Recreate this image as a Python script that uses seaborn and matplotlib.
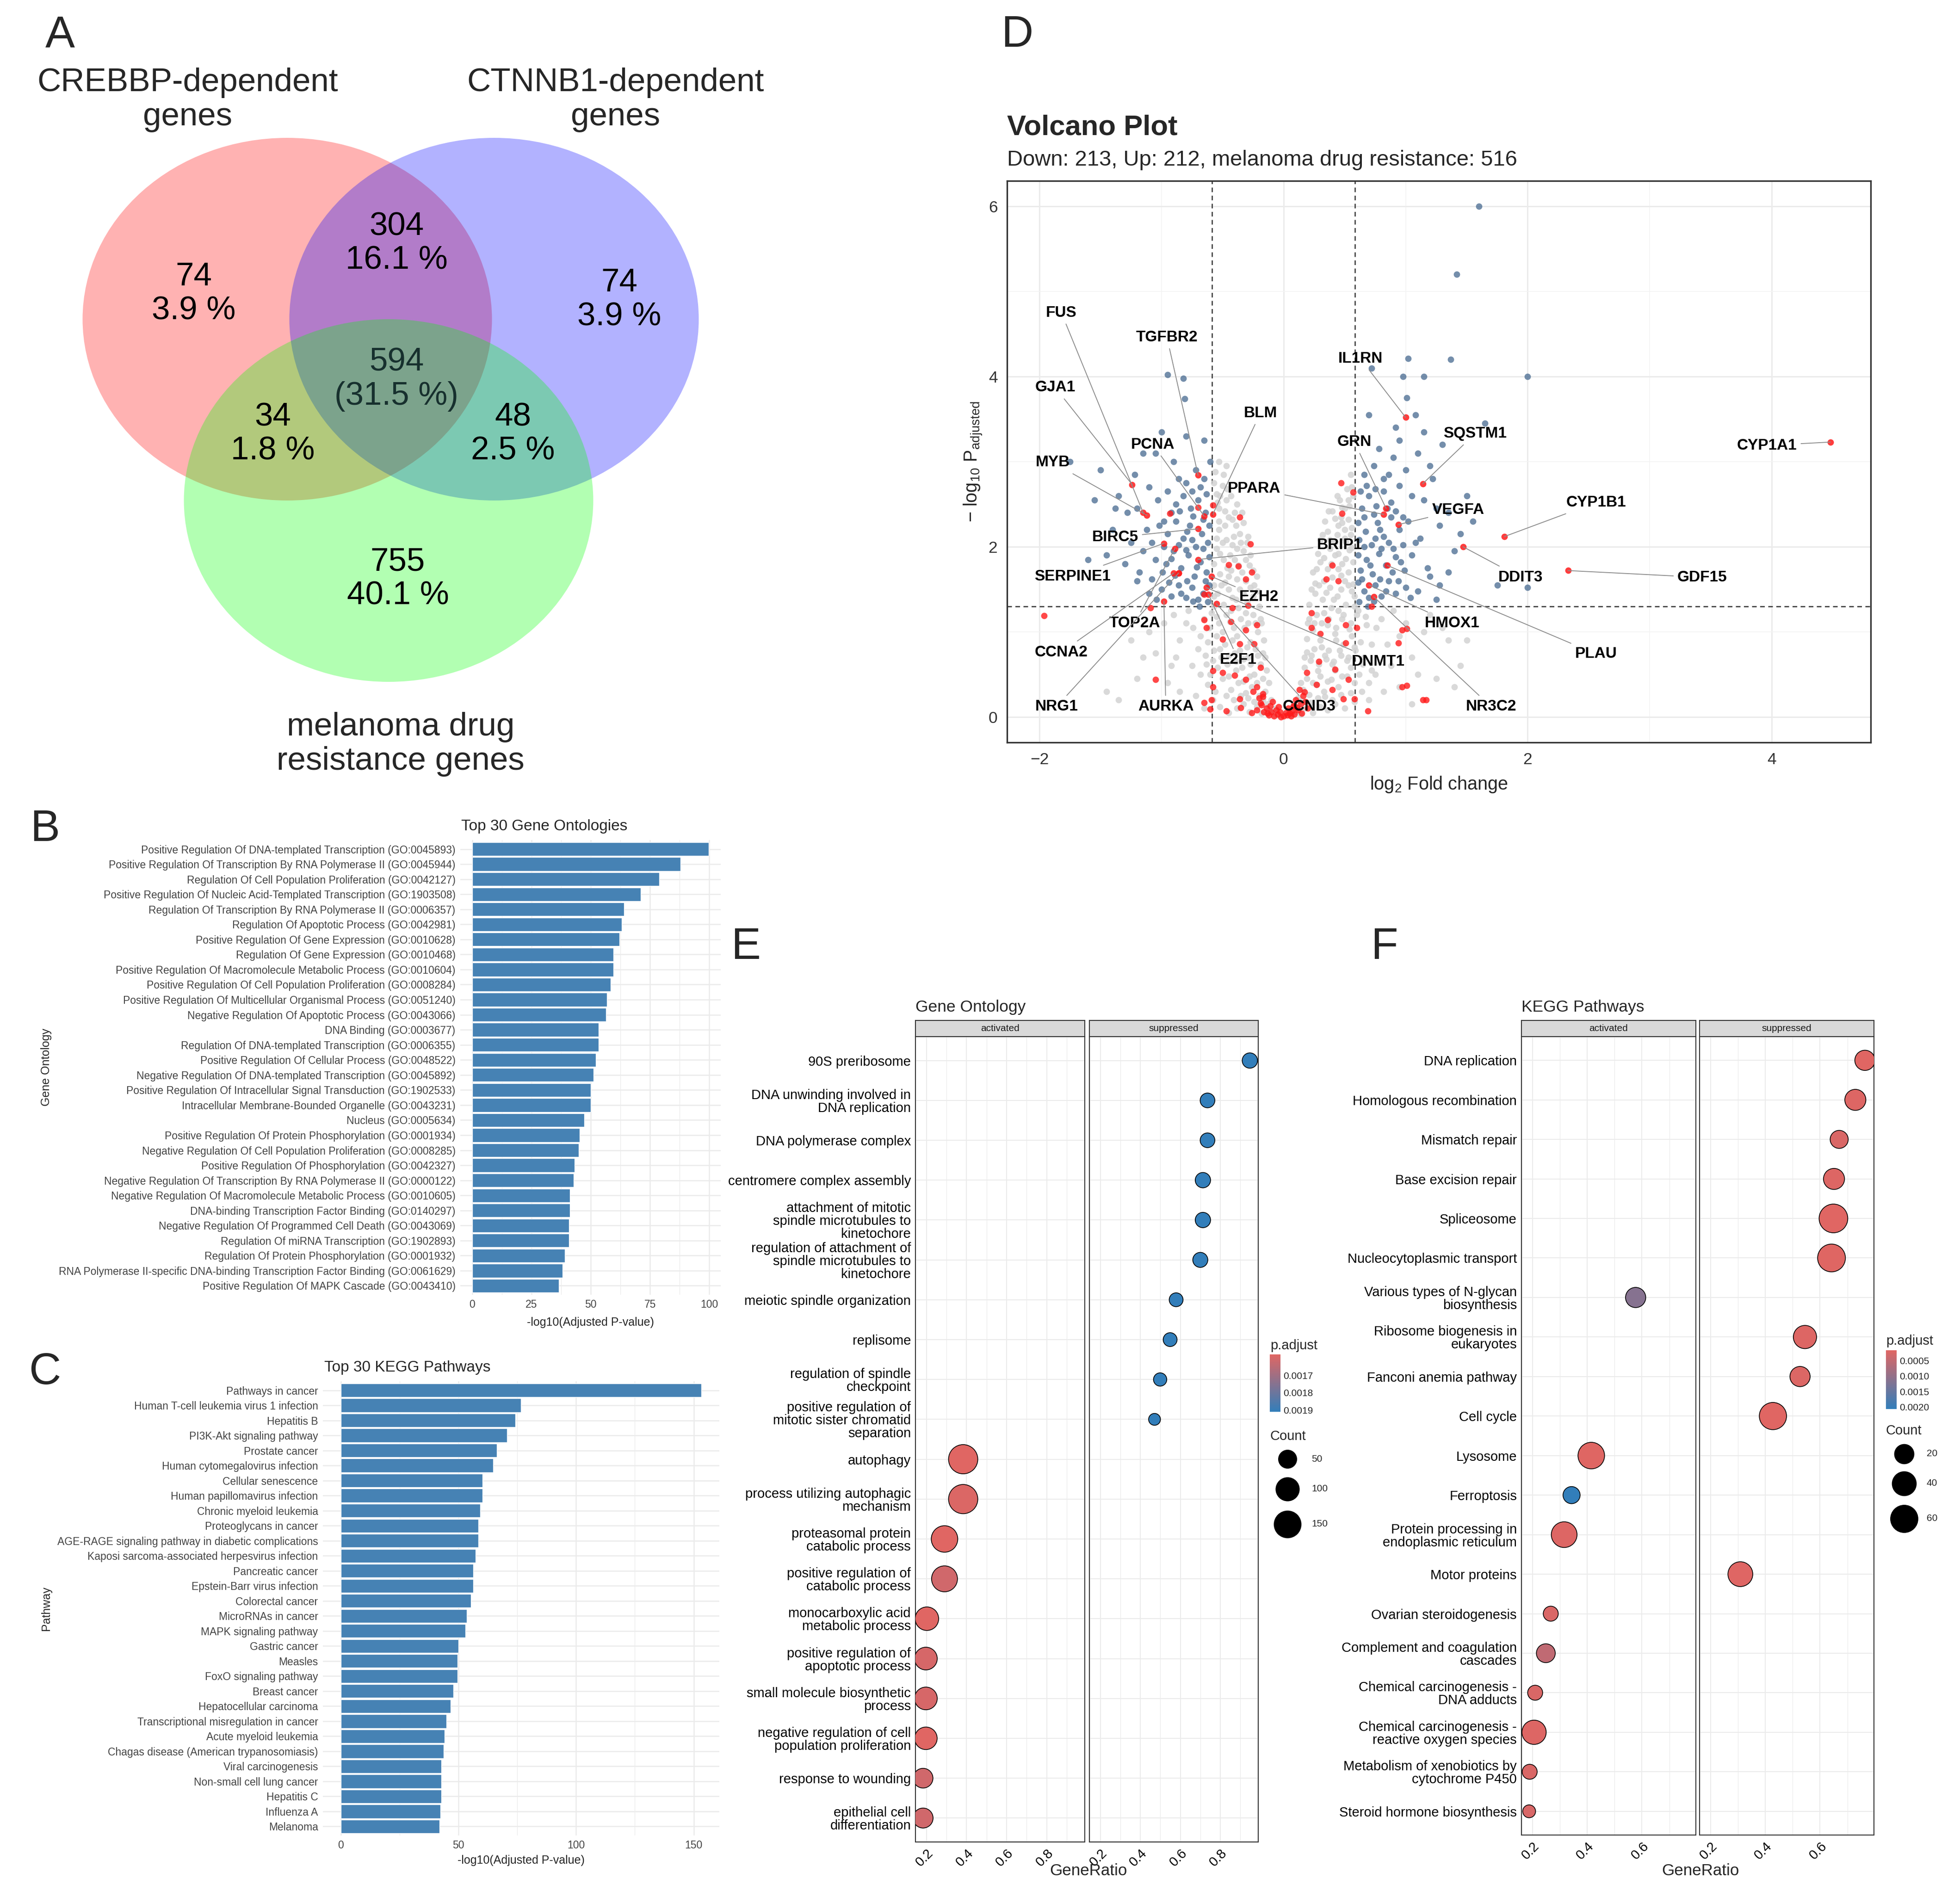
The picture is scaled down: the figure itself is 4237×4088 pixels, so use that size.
import numpy as np
import pandas as pd
import seaborn as sns
import matplotlib.pyplot as plt
from matplotlib.patches import Ellipse
from matplotlib.colors import LinearSegmentedColormap, Normalize
from matplotlib.cm import ScalarMappable

sns.set_style('white')
plt.rcParams['font.family'] = ['Liberation Sans', 'DejaVu Sans']
plt.rcParams['mathtext.fontset'] = 'custom'
plt.rcParams['mathtext.rm'] = 'Liberation Sans'
plt.rcParams['mathtext.it'] = 'Liberation Sans:italic'

# ---------------- data ----------------
# A: venn
venn_names = ['CREBBP-dependent\ngenes', 'CTNNB1-dependent\ngenes', 'melanoma drug\nresistance genes']
venn_regions = ['100', '110', '010', '111', '101', '011', '001']
venn_counts = [74, 304, 74, 594, 34, 48, 755]

# B: top GO terms
go_terms = [
    'Positive Regulation Of DNA-templated Transcription (GO:0045893)',
    'Positive Regulation Of Transcription By RNA Polymerase II (GO:0045944)',
    'Regulation Of Cell Population Proliferation (GO:0042127)',
    'Positive Regulation Of Nucleic Acid-Templated Transcription (GO:1903508)',
    'Regulation Of Transcription By RNA Polymerase II (GO:0006357)',
    'Regulation Of Apoptotic Process (GO:0042981)',
    'Positive Regulation Of Gene Expression (GO:0010628)',
    'Regulation Of Gene Expression (GO:0010468)',
    'Positive Regulation Of Macromolecule Metabolic Process (GO:0010604)',
    'Positive Regulation Of Cell Population Proliferation (GO:0008284)',
    'Positive Regulation Of Multicellular Organismal Process (GO:0051240)',
    'Negative Regulation Of Apoptotic Process (GO:0043066)',
    'DNA Binding (GO:0003677)',
    'Regulation Of DNA-templated Transcription (GO:0006355)',
    'Positive Regulation Of Cellular Process (GO:0048522)',
    'Negative Regulation Of DNA-templated Transcription (GO:0045892)',
    'Positive Regulation Of Intracellular Signal Transduction (GO:1902533)',
    'Intracellular Membrane-Bounded Organelle (GO:0043231)',
    'Nucleus (GO:0005634)',
    'Positive Regulation Of Protein Phosphorylation (GO:0001934)',
    'Negative Regulation Of Cell Population Proliferation (GO:0008285)',
    'Positive Regulation Of Phosphorylation (GO:0042327)',
    'Negative Regulation Of Transcription By RNA Polymerase II (GO:0000122)',
    'Negative Regulation Of Macromolecule Metabolic Process (GO:0010605)',
    'DNA-binding Transcription Factor Binding (GO:0140297)',
    'Negative Regulation Of Programmed Cell Death (GO:0043069)',
    'Regulation Of miRNA Transcription (GO:1902893)',
    'Regulation Of Protein Phosphorylation (GO:0001932)',
    'RNA Polymerase II-specific DNA-binding Transcription Factor Binding (GO:0061629)',
    'Positive Regulation Of MAPK Cascade (GO:0043410)']
go_scores = [99.8, 87.9, 78.9, 71.1, 64.0, 63.1, 62.1, 59.5, 59.5, 58.4,
             56.9, 56.5, 53.4, 53.4, 52.2, 51.1, 50.0, 50.0, 47.2, 45.3,
             45.0, 43.1, 42.7, 41.2, 41.2, 40.9, 40.9, 39.0, 38.1, 36.6]

# C: top KEGG pathways
kegg_terms = [
    'Pathways in cancer', 'Human T-cell leukemia virus 1 infection', 'Hepatitis B',
    'PI3K-Akt signaling pathway', 'Prostate cancer', 'Human cytomegalovirus infection',
    'Cellular senescence', 'Human papillomavirus infection', 'Chronic myeloid leukemia',
    'Proteoglycans in cancer', 'AGE-RAGE signaling pathway in diabetic complications',
    'Kaposi sarcoma-associated herpesvirus infection', 'Pancreatic cancer',
    'Epstein-Barr virus infection', 'Colorectal cancer', 'MicroRNAs in cancer',
    'MAPK signaling pathway', 'Gastric cancer', 'Measles', 'FoxO signaling pathway',
    'Breast cancer', 'Hepatocellular carcinoma', 'Transcriptional misregulation in cancer',
    'Acute myeloid leukemia', 'Chagas disease (American trypanosomiasis)',
    'Viral carcinogenesis', 'Non-small cell lung cancer', 'Hepatitis C', 'Influenza A',
    'Melanoma']
kegg_scores = [153.2, 76.6, 74.1, 70.6, 66.3, 64.7, 60.1, 60.1, 59.3, 58.4,
               58.4, 57.2, 56.3, 56.3, 55.3, 53.6, 52.9, 49.9, 49.5, 49.5,
               47.8, 46.7, 44.8, 44.0, 43.7, 42.7, 42.7, 42.7, 42.3, 42.0]

# D: volcano points (log2 fold change, -log10 p adjusted)
grey_points = [
    (-0.05, 0.02), (-0.08, 0.05), (-0.12, 0.08), (-0.18, 0.04), (-0.22, 0.12), (-0.28, 0.06), (-0.33, 0.15),
    (-0.38, 0.10), (-0.45, 0.05), (-0.52, 0.12), (-0.10, 0.20), (-0.15, 0.30), (-0.20, 0.25), (-0.26, 0.35),
    (-0.31, 0.28), (-0.37, 0.40), (-0.43, 0.32), (-0.50, 0.45), (-0.56, 0.30), (-0.62, 0.38), (-0.14, 0.55),
    (-0.19, 0.62), (-0.24, 0.50), (-0.29, 0.70), (-0.34, 0.58), (-0.40, 0.75), (-0.46, 0.62), (-0.52, 0.80),
    (-0.58, 0.66), (-0.64, 0.72), (-0.16, 0.90), (-0.21, 1.00), (-0.27, 0.88), (-0.32, 1.05), (-0.38, 0.95),
    (-0.44, 1.12), (-0.50, 1.00), (-0.55, 1.18), (-0.61, 1.05), (-0.68, 0.95), (-0.20, 1.30), (-0.25, 1.42),
    (-0.30, 1.35), (-0.36, 1.50), (-0.42, 1.40), (-0.48, 1.58), (-0.54, 1.45), (-0.22, 1.65), (-0.28, 1.78),
    (-0.34, 1.70), (-0.40, 1.85), (-0.46, 1.75), (-0.52, 1.92), (-0.30, 2.05), (-0.36, 2.15), (-0.42, 2.02),
    (-0.48, 2.25), (-0.55, 2.10), (-0.40, 2.40), (-0.47, 2.55), (-0.53, 2.45), (-0.50, 2.72), (-0.56, 2.88),
    (-0.45, 2.35), (-0.33, 1.95),
    (-0.07, 0.10), (-0.13, 0.15), (-0.17, 0.20), (-0.24, 0.18), (-0.29, 0.22), (-0.35, 0.25), (-0.41, 0.20),
    (-0.47, 0.25), (-0.58, 0.20), (-0.60, 0.50), (-0.12, 0.40), (-0.17, 0.45), (-0.22, 0.40), (-0.28, 0.48),
    (-0.33, 0.42), (-0.39, 0.55), (-0.45, 0.48), (-0.54, 0.58), (-0.17, 0.75), (-0.23, 0.80), (-0.30, 0.82),
    (-0.36, 0.78), (-0.42, 0.90), (-0.48, 0.85), (-0.55, 0.95), (-0.62, 0.88), (-0.19, 1.15), (-0.25, 1.20),
    (-0.31, 1.22), (-0.37, 1.28), (-0.43, 1.25), (-0.49, 1.32), (-0.57, 1.30), (-0.24, 1.55), (-0.31, 1.60),
    (-0.38, 1.62), (-0.45, 1.65), (-0.52, 1.68), (-0.57, 1.55), (-0.27, 1.90), (-0.38, 1.98), (-0.50, 2.05),
    (-0.33, 2.28), (-0.39, 2.25), (-0.53, 2.30), (-0.43, 2.60), (-0.55, 2.62), (-0.49, 2.85), (-0.57, 1.80),
    (-0.44, 1.90),
    (-0.21, 1.48), (-0.27, 1.52), (-0.33, 1.45), (-0.39, 1.38), (-0.45, 1.50), (-0.51, 1.55), (-0.57, 1.42),
    (-0.25, 1.72), (-0.31, 1.85), (-0.37, 1.78), (-0.43, 1.72), (-0.49, 1.85), (-0.55, 1.98), (-0.29, 2.12),
    (-0.35, 2.05), (-0.41, 2.12), (-0.47, 2.08), (-0.53, 2.20), (-0.34, 2.40), (-0.42, 2.32), (-0.48, 2.42),
    (-0.54, 2.52), (-0.38, 2.50), (-0.46, 2.68), (-0.52, 2.60), (-0.57, 2.75), (-0.47, 2.95), (-0.53, 3.00),
    (-0.18, 1.10), (-0.23, 1.10), (-0.29, 1.10), (-0.35, 1.15), (-0.41, 1.05), (-0.47, 1.20), (-0.53, 1.10),
    (-0.59, 1.22), (-0.65, 1.15), (-0.15, 0.70), (-0.21, 0.72), (-0.27, 0.62), (-0.33, 0.68), (-0.39, 0.65),
    (-0.45, 0.72), (-0.51, 0.70), (-0.57, 0.78), (-0.63, 0.62), (-0.68, 0.50), (-0.70, 0.80), (-0.74, 1.05),
    (-0.88, 0.70), (-0.98, 1.10), (-1.15, 0.70), (-0.85, 0.30), (-0.92, 0.60),
    (-0.75, 0.60), (-0.85, 0.90), (-0.95, 0.40), (-1.05, 0.75), (-1.20, 0.45), (-1.35, 0.20), (-1.45, 0.30),
    (-0.80, 1.10), (-0.90, 1.20), (-1.10, 1.00), (-0.72, 0.25), (-0.78, 1.25), (-1.25, 0.90), (-0.65, 0.10),
    (0.05, 0.02), (0.10, 0.06), (0.14, 0.03), (0.18, 0.10), (0.24, 0.05), (0.30, 0.12), (0.36, 0.08),
    (0.42, 0.15), (0.50, 0.10), (0.58, 0.18), (0.12, 0.22), (0.16, 0.32), (0.21, 0.26), (0.27, 0.38),
    (0.33, 0.30), (0.39, 0.44), (0.45, 0.35), (0.52, 0.48), (0.58, 0.40), (0.64, 0.30), (0.17, 0.58),
    (0.22, 0.66), (0.28, 0.54), (0.34, 0.72), (0.40, 0.62), (0.46, 0.78), (0.52, 0.66), (0.58, 0.82),
    (0.66, 0.70), (0.72, 0.55), (0.19, 0.92), (0.24, 1.02), (0.30, 0.90), (0.36, 1.08), (0.42, 0.98),
    (0.48, 1.15), (0.54, 1.03), (0.60, 1.20), (0.68, 1.08), (0.21, 1.32), (0.26, 1.45), (0.32, 1.38),
    (0.38, 1.52), (0.44, 1.42), (0.50, 1.60), (0.56, 1.48), (0.24, 1.70), (0.30, 1.82), (0.36, 1.74),
    (0.42, 1.90), (0.48, 1.80), (0.54, 1.96), (0.30, 2.08), (0.36, 2.18), (0.42, 2.05), (0.48, 2.28),
    (0.55, 2.14), (0.40, 2.42), (0.47, 2.35), (0.53, 2.55), (0.56, 2.70), (0.50, 2.20),
    (0.07, 0.10), (0.12, 0.14), (0.16, 0.19), (0.22, 0.17), (0.28, 0.22), (0.34, 0.24), (0.40, 0.20),
    (0.47, 0.26), (0.55, 0.28), (0.62, 0.50), (0.14, 0.40), (0.19, 0.45), (0.24, 0.40), (0.30, 0.48),
    (0.36, 0.42), (0.42, 0.55), (0.48, 0.48), (0.55, 0.58), (0.19, 0.76), (0.25, 0.80), (0.31, 0.82),
    (0.37, 0.78), (0.43, 0.90), (0.49, 0.85), (0.56, 0.95), (0.63, 0.88), (0.21, 1.15), (0.27, 1.20),
    (0.33, 1.22), (0.39, 1.28), (0.45, 1.25), (0.51, 1.32), (0.58, 1.30), (0.26, 1.57), (0.33, 1.60),
    (0.40, 1.64), (0.47, 1.66), (0.53, 1.70), (0.57, 1.56), (0.28, 1.92), (0.38, 1.98), (0.51, 2.06),
    (0.34, 2.30), (0.45, 2.25), (0.53, 2.32), (0.44, 2.60), (0.55, 2.85), (0.50, 2.45), (0.57, 1.82),
    (0.45, 1.92),
    (0.23, 1.50), (0.29, 1.55), (0.35, 1.46), (0.41, 1.38), (0.47, 1.50), (0.53, 1.55), (0.58, 1.42),
    (0.27, 1.74), (0.33, 1.87), (0.39, 1.80), (0.45, 1.74), (0.51, 1.86), (0.56, 1.99), (0.32, 2.14),
    (0.38, 2.08), (0.44, 2.14), (0.50, 2.10), (0.56, 2.22), (0.37, 2.42), (0.42, 2.33), (0.48, 2.46),
    (0.54, 2.48), (0.46, 2.55), (0.52, 2.68), (0.57, 2.60),
    (0.20, 1.10), (0.25, 1.10), (0.31, 1.10), (0.37, 1.15), (0.43, 1.05), (0.49, 1.20), (0.55, 1.10),
    (0.61, 1.25), (0.67, 1.18), (0.17, 0.70), (0.23, 0.72), (0.29, 0.62), (0.35, 0.68), (0.41, 0.65),
    (0.47, 0.72), (0.53, 0.70), (0.59, 0.78), (0.65, 0.62), (0.70, 0.40), (0.72, 0.85), (0.76, 1.05),
    (0.88, 0.60), (1.00, 1.10), (1.10, 0.50), (0.82, 0.30), (0.95, 0.95), (1.40, 0.35), (1.50, 0.90),
    (0.75, 0.50), (0.85, 0.85), (0.95, 0.35), (1.05, 0.70), (1.15, 1.00), (1.25, 0.45), (1.35, 0.90),
    (1.45, 0.60), (0.80, 1.15), (0.90, 1.25), (1.20, 1.20), (0.70, 0.20), (1.05, 0.15), (1.30, 1.05)]

blue_points = [
    (-0.62, 1.35), (-0.66, 1.45), (-0.70, 1.38), (-0.75, 1.52), (-0.80, 1.40), (-0.86, 1.55), (-0.92, 1.42),
    (-1.00, 1.50), (-1.10, 1.45), (-1.20, 1.60), (-0.63, 1.70), (-0.68, 1.82), (-0.73, 1.65), (-0.78, 1.90),
    (-0.84, 1.75), (-0.90, 1.95), (-0.96, 1.80), (-1.05, 1.85), (-1.15, 1.95), (-1.30, 1.80), (-0.62, 2.05),
    (-0.67, 2.15), (-0.72, 2.00), (-0.77, 2.25), (-0.82, 2.10), (-0.88, 2.30), (-0.95, 2.15), (-1.02, 2.25),
    (-1.12, 2.20), (-1.25, 2.05), (-0.64, 2.40), (-0.70, 2.55), (-0.76, 2.45), (-0.82, 2.60), (-0.88, 2.50),
    (-0.95, 2.65), (-1.03, 2.55), (-1.10, 2.70), (-1.20, 2.45), (-1.40, 2.20), (-0.65, 2.80), (-0.72, 2.90),
    (-0.80, 2.75), (-0.90, 3.00), (-1.05, 3.10), (-1.15, 3.10), (-1.00, 3.35), (-0.80, 3.30), (-0.65, 3.25),
    (-1.50, 2.90), (-1.75, 3.00), (-1.35, 2.60), (-1.45, 1.90), (-1.60, 1.85), (-0.95, 4.02), (-0.82, 3.98),
    (-0.81, 3.74), (-0.60, 3.00), (-1.28, 2.40), (-1.08, 1.62),
    (-0.61, 1.55), (-0.64, 1.60), (-0.69, 1.30), (-0.74, 1.36), (-0.79, 1.60), (-0.84, 1.45), (-0.89, 1.66),
    (-0.94, 1.58), (-0.99, 1.70), (-1.04, 1.38), (-0.61, 1.88), (-0.66, 1.98), (-0.71, 1.76), (-0.75, 2.08),
    (-0.80, 1.96), (-0.86, 2.02), (-0.92, 1.86), (-0.98, 2.00), (-1.08, 2.05), (-0.61, 2.25), (-0.66, 2.32),
    (-0.74, 2.36), (-0.79, 2.18), (-0.85, 2.42), (-0.92, 2.40), (-0.98, 2.30), (-0.63, 2.62), (-0.68, 2.70),
    (-0.75, 2.65), (-0.86, 2.80), (-1.18, 1.70), (-1.38, 2.45), (-1.55, 2.55), (-1.22, 2.85),
    (0.62, 1.35), (0.66, 1.48), (0.70, 1.40), (0.75, 1.55), (0.80, 1.42), (0.86, 1.60), (0.92, 1.45),
    (1.00, 1.52), (1.10, 1.48), (1.25, 1.38), (0.63, 1.72), (0.68, 1.85), (0.73, 1.68), (0.78, 1.92),
    (0.84, 1.78), (0.90, 1.98), (0.96, 1.82), (1.05, 1.90), (1.18, 1.75), (1.35, 1.70), (0.62, 2.08),
    (0.67, 2.18), (0.72, 2.02), (0.77, 2.28), (0.82, 2.12), (0.88, 2.35), (0.95, 2.20), (1.02, 2.30),
    (1.12, 2.10), (1.28, 2.25), (0.64, 2.45), (0.70, 2.60), (0.76, 2.48), (0.82, 2.65), (0.88, 2.52),
    (0.95, 2.72), (1.05, 2.60), (1.15, 2.55), (1.25, 2.45), (1.45, 2.15), (0.66, 2.85), (0.74, 2.95),
    (0.82, 2.80), (0.90, 3.05), (1.00, 2.90), (1.10, 3.10), (1.20, 2.95), (1.30, 3.20), (0.70, 3.55),
    (0.92, 3.40), (1.08, 3.55), (1.65, 3.45), (1.55, 2.30), (1.40, 1.95), (1.75, 1.55), (2.00, 1.52),
    (1.60, 6.00), (1.42, 5.20), (1.37, 4.20), (1.02, 4.21), (0.98, 4.00), (1.15, 4.00), (2.00, 4.00),
    (0.72, 4.10), (1.01, 3.75),
    (0.61, 1.58), (0.64, 1.62), (0.69, 1.30), (0.74, 1.36), (0.79, 1.62), (0.84, 1.48), (0.89, 1.70),
    (0.94, 1.60), (0.99, 1.72), (1.04, 1.40), (0.61, 1.90), (0.66, 2.00), (0.71, 1.78), (0.75, 2.10),
    (0.80, 1.98), (0.86, 2.05), (0.92, 1.88), (0.98, 2.02), (1.08, 2.05), (0.61, 2.28), (0.66, 2.35),
    (0.74, 2.38), (0.79, 2.20), (0.85, 2.45), (0.92, 2.42), (0.98, 2.35), (0.63, 2.65), (0.68, 2.72),
    (0.75, 2.68), (0.86, 2.85), (1.20, 1.65), (1.35, 2.40), (1.50, 2.60), (1.22, 2.80), (0.78, 3.15),
    (0.95, 3.25), (1.15, 3.35), (1.28, 1.55)]

red_points = [
    (-0.12, 0.02), (-0.08, 0.01), (-0.05, 0.03), (-0.02, 0.00), (0.00, 0.01), (0.03, 0.02), (0.06, 0.01),
    (0.09, 0.03), (-0.10, 0.06), (-0.06, 0.08), (0.02, 0.05), (0.07, 0.07), (-0.14, 0.10), (0.12, 0.08),
    (-0.18, 0.14), (0.14, 0.15), (-0.04, 0.12), (0.04, 0.10), (-0.20, 0.22), (0.10, 0.20), (-0.25, 0.30),
    (0.16, 0.25), (-0.09, 0.18), (0.08, 0.13), (-0.16, 0.06), (0.15, 0.04), (-0.22, 0.08), (0.20, 0.10),
    (-0.13, 0.04), (-0.03, 0.06), (0.05, 0.04), (0.11, 0.11), (-0.11, 0.13), (0.18, 0.18), (-0.17, 0.24),
    (-0.45, 1.79), (-0.37, 1.77), (-0.36, 2.35), (-0.27, 2.03), (-0.31, 1.62), (-0.26, 1.70), (-0.42, 1.28),
    (-0.29, 1.31), (-0.43, 1.12), (-0.31, 1.02), (-0.36, 0.86), (-0.50, 0.91), (-0.24, 0.86), (-0.22, 1.08),
    (-0.58, 0.54), (-0.50, 0.52), (-0.40, 0.49), (-0.31, 0.44), (-0.19, 0.58), (-0.22, 0.35), (-0.36, 0.21),
    (-0.59, 0.20), (-0.60, 0.09), (-0.47, 0.07), (-0.35, 0.11), (-0.26, 0.05), (-0.19, 0.16), (-0.17, 0.27),
    (0.23, 1.05), (0.30, 0.98), (0.36, 1.14), (0.23, 1.22), (0.35, 1.62), (0.45, 1.60), (0.40, 1.78),
    (0.48, 2.39), (0.47, 2.75), (0.57, 2.64), (0.51, 1.08), (0.51, 0.87), (0.42, 0.56), (0.29, 0.65),
    (0.19, 0.52), (0.27, 0.38), (0.17, 0.29), (0.40, 0.32), (0.49, 0.21), (0.58, 0.21), (0.69, 0.07),
    (0.60, 1.05), (0.53, 0.44), (0.09, 0.13), (0.13, 0.32),
    (-1.96, 1.19), (-1.05, 0.44), (-1.09, 1.28), (-0.65, 1.14), (-0.63, 1.05), (-0.58, 0.35), (-0.65, 0.17),
    (-0.70, 2.46), (-0.58, 2.49), (-0.93, 2.39), (-0.86, 1.69), (-0.65, 1.44), (0.72, 1.30), (1.01, 1.04),
    (1.01, 0.37), (1.14, 0.20), (0.97, 1.02), (0.94, 0.87), (0.97, 0.35), (1.17, 0.20)]

label_genes = ['FUS', 'TGFBR2', 'GJA1', 'BLM', 'PCNA', 'MYB', 'PPARA', 'BIRC5', 'BRIP1', 'SERPINE1',
               'EZH2', 'TOP2A', 'CCNA2', 'E2F1', 'NRG1', 'AURKA', 'CCND3', 'DNMT1', 'IL1RN', 'GRN',
               'SQSTM1', 'VEGFA', 'CYP1B1', 'DDIT3', 'GDF15', 'HMOX1', 'PLAU', 'NR3C2', 'CYP1A1']
label_fc = [-1.15, -0.70, -1.24, -0.58, -0.65, -1.12, 0.82, -0.70, -0.70, -0.98,
            -0.59, -0.89, -0.90, -0.615, -0.86, -0.98, -0.55, -0.63, 1.00, 0.84,
            1.14, 0.94, 1.81, 1.47, 2.33, 0.70, 0.85, 0.74, 4.48]
label_p = [2.40, 2.84, 2.73, 2.38, 2.36, 2.37, 2.38, 2.21, 1.85, 2.04,
           1.65, 1.98, 1.69, 1.44, 1.69, 1.36, 1.33, 1.52, 3.52, 2.45,
           2.74, 2.26, 2.12, 2.00, 1.72, 1.55, 1.78, 1.41, 3.23]

# E: GO dotplot
go_dot_terms = [
    '90S preribosome', 'DNA unwinding involved in\nDNA replication', 'DNA polymerase complex',
    'centromere complex assembly', 'attachment of mitotic\nspindle microtubules to\nkinetochore',
    'regulation of attachment of\nspindle microtubules to\nkinetochore', 'meiotic spindle organization',
    'replisome', 'regulation of spindle\ncheckpoint',
    'positive regulation of\nmitotic sister chromatid\nseparation', 'autophagy',
    'process utilizing autophagic\nmechanism', 'proteasomal protein\ncatabolic process',
    'positive regulation of\ncatabolic process', 'monocarboxylic acid\nmetabolic process',
    'positive regulation of\napoptotic process', 'small molecule biosynthetic\nprocess',
    'negative regulation of cell\npopulation proliferation', 'response to wounding',
    'epithelial cell\ndifferentiation']
go_dot_ratio = [0.948, 0.736, 0.736, 0.713, 0.713, 0.700, 0.579, 0.549, 0.499, 0.471,
                0.383, 0.383, 0.290, 0.290, 0.202, 0.197, 0.197, 0.197, 0.183, 0.183]
go_dot_count = [31, 29, 29, 31, 31, 30, 27, 27, 26, 25, 176, 176, 132, 124, 93, 84, 84, 82, 56, 58]
go_dot_padj = [0.00191, 0.00191, 0.00191, 0.00191, 0.00191, 0.00191, 0.00191, 0.00191, 0.00191, 0.00191,
               0.00158, 0.00159, 0.00158, 0.00161, 0.00158, 0.00160, 0.00160, 0.00158, 0.00161, 0.00161]
go_dot_group = ['suppressed'] * 10 + ['activated'] * 10

# F: KEGG dotplot
kegg_dot_terms = [
    'DNA replication', 'Homologous recombination', 'Mismatch repair', 'Base excision repair',
    'Spliceosome', 'Nucleocytoplasmic transport', 'Various types of N-glycan\nbiosynthesis',
    'Ribosome biogenesis in\neukaryotes', 'Fanconi anemia pathway', 'Cell cycle', 'Lysosome',
    'Ferroptosis', 'Protein processing in\nendoplasmic reticulum', 'Motor proteins',
    'Ovarian steroidogenesis', 'Complement and coagulation\ncascades',
    'Chemical carcinogenesis -\nDNA adducts', 'Chemical carcinogenesis -\nreactive oxygen species',
    'Metabolism of xenobiotics by\ncytochrome P450', 'Steroid hormone biosynthesis']
kegg_dot_ratio = [0.764, 0.729, 0.670, 0.651, 0.649, 0.642, 0.577, 0.545, 0.527, 0.428,
                  0.415, 0.343, 0.316, 0.309, 0.267, 0.249, 0.210, 0.206, 0.190, 0.188]
kegg_dot_count = [20, 23, 14, 23, 64, 58, 20, 32, 20, 54, 50, 12, 45, 40, 9, 16, 9, 37, 9, 8]
kegg_dot_padj = [0.00017, 0.00020, 0.00025, 0.00020, 0.00017, 0.00018, 0.00115, 0.00020, 0.00022, 0.00017,
                 0.00018, 0.00206, 0.00020, 0.00019, 0.00024, 0.00052, 0.00025, 0.00020, 0.00025, 0.00026]
kegg_dot_group = (['suppressed'] * 6 + ['activated'] + ['suppressed'] * 3 + ['activated'] * 3
                  + ['suppressed'] + ['activated'] * 6)

# ---------------- layout helpers ----------------
W, H = 4237, 4088
fig = plt.figure(figsize=(W / 300, H / 300), dpi=300)


def add_ax(l, t, r, b):
    return fig.add_axes([l / W, 1 - b / H, (r - l) / W, (b - t) / H])


GRID = '#EBEBEB'
dot_cmap = LinearSegmentedColormap.from_list('enrich', ['#e06663', '#327eba'])

# ---------------- B / C bar charts ----------------
def bar_panel(terms, scores, box, xlim, ticks, minor):
    ax = add_ax(*box)
    df = pd.DataFrame({'term': terms, 'score': scores})
    sns.barplot(data=df, x='score', y='term', orient='h', color='#4682B4', saturation=1,
                width=0.9, edgecolor='white', linewidth=0.3, ax=ax, zorder=2)
    ax.set_xlim(*xlim)
    ax.set_ylim(len(terms) - 0.4, -0.6)
    ax.set_xticks(ticks)
    ax.set_xticks(minor, minor=True)
    ax.grid(True, which='major', color=GRID, lw=0.6)
    ax.grid(True, which='minor', axis='x', color=GRID, lw=0.3)
    ax.set_axisbelow(True)
    for s in ax.spines.values():
        s.set_visible(False)
    ax.tick_params(axis='both', which='both', length=0, pad=2.5, labelsize=5.5, labelcolor='#444444')
    ax.tick_params(axis='x', labelsize=5.5)
    ax.set_xlabel('')
    ax.set_ylabel('')
    return ax

bar_panel(go_terms, go_scores, (995, 1816, 1558, 2799), (-5, 104.8), [0, 25, 50, 75, 100],
          [12.5, 37.5, 62.5, 87.5])
bar_panel(kegg_terms, kegg_scores, (698, 2986, 1555, 3968), (-7.66, 160.9), [0, 50, 100, 150],
          [25, 75, 125])

# ---------------- D volcano ----------------
axd = add_ax(2177, 391, 4044, 1605)
for pts, col, a, z in [(grey_points, '#D3D3D3', 0.85, 2), (blue_points, '#46698F', 0.75, 3),
                       (red_points, '#FF1A1A', 0.8, 4)]:
    arr = np.array(pts)
    sns.scatterplot(x=arr[:, 0], y=arr[:, 1], color=col, alpha=a, s=11, linewidth=0,
                    legend=False, ax=axd, zorder=z)
lab_df = pd.DataFrame({'gene': label_genes, 'fc': label_fc, 'p': label_p})
sns.scatterplot(data=lab_df, x='fc', y='p', color='#FF1A1A', alpha=0.85, s=11, linewidth=0,
                legend=False, ax=axd, zorder=5)

label_text_pos = {
    'FUS': (-1.82, 4.75), 'TGFBR2': (-0.955, 4.46), 'GJA1': (-1.87, 3.87), 'BLM': (-0.19, 3.57),
    'PCNA': (-1.07, 3.20), 'MYB': (-1.89, 2.99), 'PPARA': (-0.24, 2.68), 'BIRC5': (-1.38, 2.11),
    'BRIP1': (0.46, 2.02), 'SERPINE1': (-1.73, 1.65), 'EZH2': (-0.20, 1.41), 'TOP2A': (-1.22, 1.10),
    'CCNA2': (-1.82, 0.76), 'E2F1': (-0.37, 0.67), 'NRG1': (-1.86, 0.12), 'AURKA': (-0.965, 0.12),
    'CCND3': (0.21, 0.12), 'DNMT1': (0.775, 0.65), 'IL1RN': (0.63, 4.21), 'GRN': (0.58, 3.23),
    'SQSTM1': (1.57, 3.33), 'VEGFA': (1.43, 2.43), 'CYP1B1': (2.56, 2.52), 'DDIT3': (1.94, 1.64),
    'GDF15': (3.43, 1.64), 'HMOX1': (1.38, 1.10), 'PLAU': (2.56, 0.74), 'NR3C2': (1.70, 0.12),
    'CYP1A1': (3.96, 3.19)}
for g, x, y in zip(label_genes, label_fc, label_p):
    axd.annotate(g, xy=(x, y), xytext=label_text_pos[g], ha='center', va='center',
                 fontsize=8, fontweight='bold', color='black', zorder=6,
                 arrowprops=dict(arrowstyle='-', color='#8C8C8C', lw=0.45, shrinkA=0, shrinkB=0))

axd.axvline(-0.585, color='#333333', ls=(0, (4, 3)), lw=0.6, zorder=1)
axd.axvline(0.585, color='#333333', ls=(0, (4, 3)), lw=0.6, zorder=1)
axd.axhline(1.301, color='#333333', ls=(0, (4, 3)), lw=0.6, zorder=1)
axd.set_xlim(-2.265, 4.81)
axd.set_ylim(-0.30, 6.30)
axd.set_xticks([-2, 0, 2, 4])
axd.set_xticks([-1, 1, 3], minor=True)
axd.set_yticks([0, 2, 4, 6])
axd.set_yticks([1, 3, 5], minor=True)
axd.grid(True, which='major', color=GRID, lw=0.7)
axd.grid(True, which='minor', color='#F3F3F3', lw=0.4)
axd.set_axisbelow(True)
for s in axd.spines.values():
    s.set_color('#333333')
    s.set_linewidth(0.8)
axd.tick_params(axis='both', which='major', length=2.75, width=0.6, color='#333333', pad=2.2,
                labelsize=8.5, labelcolor='#333333')
axd.tick_params(axis='both', which='minor', length=0)
axd.set_xlabel('')
axd.set_ylabel('')
axd.text(0, 1.0947, 'Volcano Plot', transform=axd.transAxes, ha='left', va='center',
         fontsize=14.8, fontweight='bold')
axd.text(0, 1.037, 'Down: 213, Up: 212, melanoma drug resistance: 516', transform=axd.transAxes,
         ha='left', va='center', fontsize=11.3)

# ---------------- E / F dotplots ----------------
def size_lookup(counts, cmin, cmax, rmin, rmax):
    out = {}
    for c in counts:
        t = np.clip((c - cmin) / (cmax - cmin), 0, 1)
        r = rmin + (rmax - rmin) * np.sqrt(t)
        out[c] = (2 * r * 72 / 300) ** 2
    return out


def dot_panel(terms, ratio, count, padj, group, boxes, strip, bottom, xlim, ticks, minor, sizes, norm):
    n = len(terms)
    df = pd.DataFrame({'row': np.arange(n), 'GeneRatio': ratio, 'Count': count,
                       'p.adjust': padj, 'group': group})
    for k, ((l, r), grp) in enumerate(zip(boxes, ['activated', 'suppressed'])):
        sax = add_ax(l, strip[0], r, strip[1])
        sax.set_facecolor('#D9D9D9')
        sax.set_xticks([])
        sax.set_yticks([])
        for s in sax.spines.values():
            s.set_color('#333333')
            s.set_linewidth(0.5)
        sax.text(0.5, 0.5, grp, ha='center', va='center', fontsize=5, color='#1A1A1A',
                 transform=sax.transAxes)

        ax = add_ax(l, strip[1], r, bottom)
        sub = df[df['group'] == grp]
        sns.scatterplot(data=sub, x='GeneRatio', y='row', hue='p.adjust', hue_norm=norm,
                        palette=dot_cmap, size='Count', sizes=sizes, edgecolor='black',
                        linewidth=0.4, legend=False, ax=ax, zorder=3)
        ax.set_xlim(*xlim)
        ax.set_ylim(n - 0.4, -0.6)
        ax.set_xticks(ticks)
        ax.set_xticklabels([f'{t:.1f}' for t in ticks], rotation=45, ha='right',
                           rotation_mode='anchor', fontsize=7)
        ax.set_xticks(minor, minor=True)
        ax.set_yticks(np.arange(n))
        if k == 0:
            ax.set_yticklabels(terms, fontsize=7, linespacing=1.0)
        else:
            ax.set_yticklabels([])
        ax.grid(True, which='major', color=GRID, lw=0.5)
        ax.grid(True, which='minor', axis='x', color=GRID, lw=0.3)
        ax.set_axisbelow(True)
        for s in ax.spines.values():
            s.set_color('#333333')
            s.set_linewidth(0.5)
        ax.tick_params(axis='both', which='major', length=1.2, width=0.4, color='#333333',
                       pad=1.2, labelcolor='black')
        ax.tick_params(axis='y', length=1.2 if k == 0 else 0)
        ax.tick_params(which='minor', length=0)
        ax.set_xlabel('')
        ax.set_ylabel('')


go_sizes = size_lookup(sorted(set(go_dot_count)), 25, 176, 12.8, 31.6)
go_norm = (0.00158, 0.00191)
dot_panel(go_dot_terms, go_dot_ratio, go_dot_count, go_dot_padj, go_dot_group,
          [(1979, 2345), (2355, 2720)], (2206, 2241), 3982, (0.145, 0.99),
          [0.2, 0.4, 0.6, 0.8], [0.3, 0.5, 0.7, 0.9], go_sizes, go_norm)

kegg_sizes = size_lookup(sorted(set(kegg_dot_count)), 8, 64, 13.9, 31.0)
kegg_norm = (0.00017, 0.00206)
dot_panel(kegg_dot_terms, kegg_dot_ratio, kegg_dot_count, kegg_dot_padj, kegg_dot_group,
          [(3289, 3666), (3674, 4051)], (2206, 2241), 3967, (0.160, 0.797),
          [0.2, 0.4, 0.6], [0.3, 0.5, 0.7], kegg_sizes, kegg_norm)


def colorbar(box, norm, ticks):
    cax = add_ax(*box)
    cb = fig.colorbar(ScalarMappable(norm=Normalize(*norm), cmap=dot_cmap), cax=cax)
    cax.invert_yaxis()
    cb.outline.set_visible(False)
    cb.set_ticks(ticks)
    cb.set_ticklabels([f'{t:.4f}' for t in ticks])
    cax.tick_params(length=2.2, width=0.5, color='white', direction='in', labelsize=5, pad=1.5)

colorbar((2745, 2928, 2768, 3052), go_norm, [0.0017, 0.0018, 0.0019])
colorbar((4077, 2919, 4100, 3046), kegg_norm, [0.0005, 0.0010, 0.0015, 0.0020])

# ---------------- overlay: venn, titles, letters, legends ----------------
ov = fig.add_axes([0, 0, 1, 1])
ov.set_xlim(0, W)
ov.set_ylim(H, 0)
ov.axis('off')

venn_shapes = [((621, 690), 'red'), ((1068, 690), 'blue'), ((840, 1082), 'lime')]
for (cx, cy), col in venn_shapes:
    ov.add_patch(Ellipse((cx, cy), 885, 784, facecolor=col, alpha=0.3, lw=0))
total = sum(venn_counts)
region_pos = {'100': (419, 636), '110': (857, 527), '010': (1339, 649), '111': (857, 820),
              '101': (590, 939), '011': (1109, 939), '001': (860, 1252)}
for reg, c in zip(venn_regions, venn_counts):
    pct = f'{100 * c / total:.1f} %'
    txt = f'{c}\n({pct})' if reg == '111' else f'{c}\n{pct}'
    col = '#17302E' if reg == '111' else 'black'
    ov.text(*region_pos[reg], txt, ha='center', va='center', fontsize=17, color=col,
            linespacing=1.15)
for name, pos in zip(venn_names, [(406, 216), (1331, 216), (866, 1609)]):
    ov.text(*pos, name, ha='center', va='center', fontsize=17, linespacing=1.15)

for letter, pos in [('A', (130, 76)), ('B', (97, 1793)), ('C', (97, 2967)), ('D', (2199, 76)),
                    ('E', (1612, 2048)), ('F', (2992, 2048))]:
    ov.text(*pos, letter, ha='center', va='center', fontsize=23)

ov.text(997, 1787, 'Top 30 Gene Ontologies', ha='left', va='center', fontsize=8)
ov.text(1276, 2859, '-log10(Adjusted P-value)', ha='center', va='center', fontsize=6)
ov.text(100, 2307, 'Gene Ontology', ha='center', va='center', rotation=90, fontsize=6)
ov.text(701, 2956, 'Top 30 KEGG Pathways', ha='left', va='center', fontsize=8)
ov.text(1126, 4022, '-log10(Adjusted P-value)', ha='center', va='center', fontsize=6)
ov.text(100, 3477, 'Pathway', ha='center', va='center', rotation=90, fontsize=6)

ov.text(2105, 998, r'$-\ \mathrm{log}_{10}\ \mathrm{P}_{\mathrm{adjusted}}$', ha='center', va='center',
        rotation=90, fontsize=9.5)
ov.text(3111, 1696, r'$\mathrm{log}_{2}$ Fold change', ha='center', va='center', fontsize=9.5)

ov.text(1979, 2178, 'Gene Ontology', ha='left', va='center', fontsize=8.5)
ov.text(2353, 4044, 'GeneRatio', ha='center', va='center', fontsize=8.4)
ov.text(3289, 2178, 'KEGG Pathways', ha='left', va='center', fontsize=8.5)
ov.text(3676, 4044, 'GeneRatio', ha='center', va='center', fontsize=8.4)

# legends
ov.text(2746, 2909, 'p.adjust', ha='left', va='center', fontsize=7)
ov.text(2746, 3105, 'Count', ha='left', va='center', fontsize=7)
e_leg = size_lookup([50, 100, 150], 25, 176, 12.8, 31.6)
for c, y in zip([50, 100, 150], [3154, 3219, 3295]):
    ov.scatter([2783], [y], s=e_leg[c], color='black', lw=0)
    ov.text(2835, y, str(c), ha='left', va='center', fontsize=5)

ov.text(4077, 2899, 'p.adjust', ha='left', va='center', fontsize=7)
ov.text(4077, 3093, 'Count', ha='left', va='center', fontsize=7)
f_leg = size_lookup([20, 40, 60], 8, 64, 13.9, 31.0)
for c, y in zip([20, 40, 60], [3143, 3207, 3283]):
    ov.scatter([4116], [y], s=f_leg[c], color='black', lw=0)
    ov.text(4165, y, str(c), ha='left', va='center', fontsize=5)

fig.savefig('out.png', dpi=300)
